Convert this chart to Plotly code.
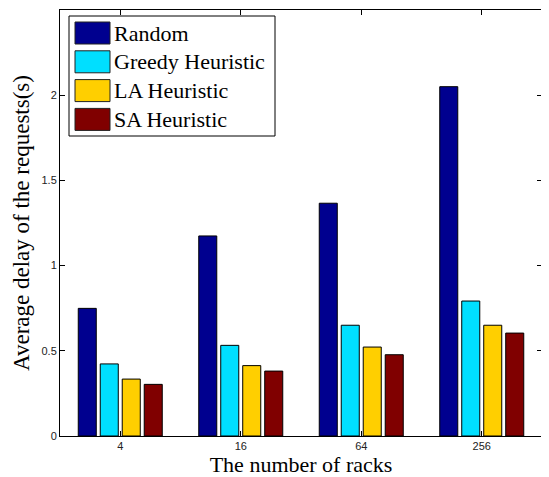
import plotly.graph_objects as go

categories = ["4", "16", "64", "256"]
series_names = ["Random", "Greedy Heuristic", "LA Heuristic", "SA Heuristic"]
random_vals = [0.749, 1.174, 1.366, 2.05]
greedy_vals = [0.423, 0.532, 0.650, 0.792]
la_vals = [0.334, 0.413, 0.522, 0.650]
sa_vals = [0.303, 0.381, 0.477, 0.604]
colors = ["#00008F", "#00DFFF", "#FFCF00", "#800000"]
y_ticks = [0, 0.5, 1, 1.5, 2, 2.5]
y_tick_labels = ["0", "0.5", "1", "1.5", "2", "2.5"]

series_vals = [random_vals, greedy_vals, la_vals, sa_vals]

# page has an 8px body margin; figure sized so it fills the 549x477 window
BODY = 8
W, H = 549 - BODY, 477 - BODY
# plot area in window pixels
L, R, T, B = 60, 542, 10, 436
ml, mt = L - BODY, T - BODY
mr = (BODY + W) - R
mb = (BODY + H) - B

fig = go.Figure()
for name, vals, col in zip(series_names, series_vals, colors):
    fig.add_trace(go.Bar(
        x=categories, y=vals, name=name,
        marker=dict(color=col, line=dict(color="black", width=1)),
        showlegend=False,
    ))

serif = "Liberation Serif, Times New Roman, serif"
sans = "Liberation Sans, Arial, sans-serif"


def px2x(px):
    return (px - L) / (R - L)


def py2y(py):
    return (B - py) / (B - T)


shapes = []
annotations = []
box_l, box_r, box_t, box_b = 69, 275, 16, 136
shapes.append(dict(type="rect", xref="paper", yref="paper",
                   x0=px2x(box_l), x1=px2x(box_r), y0=py2y(box_b), y1=py2y(box_t),
                   line=dict(color="black", width=1), fillcolor="white", layer="above"))
row_h = 28.8
for i, (name, col) in enumerate(zip(series_names, colors)):
    top = 22 + i * row_h
    shapes.append(dict(type="rect", xref="paper", yref="paper",
                       x0=px2x(75), x1=px2x(110), y0=py2y(top + 22), y1=py2y(top),
                       line=dict(color="#222222", width=1), fillcolor=col, layer="above"))
    annotations.append(dict(xref="paper", yref="paper", x=px2x(112), y=py2y(top + 11),
                            text=name, showarrow=False, xanchor="left", yanchor="middle",
                            font=dict(family=serif, size=22, color="black")))

fig.update_layout(
    width=W, height=H,
    margin=dict(l=ml, r=mr, t=mt, b=mb, autoexpand=False),
    paper_bgcolor="white", plot_bgcolor="white",
    barmode="group", bargap=0.27, bargroupgap=0.18,
    shapes=shapes, annotations=annotations,
    xaxis=dict(type="category", range=[-0.5, 3.5], automargin=False,
               showline=True, linecolor="black", linewidth=1, mirror="ticks",
               ticks="inside", ticklen=5, tickcolor="black",
               tickfont=dict(family=sans, size=11, color="#222222"),
               title=dict(text="The number of racks", font=dict(family=serif, size=22, color="black"), standoff=7),
               showgrid=False, zeroline=False),
    yaxis=dict(range=[0, 2.5], tickvals=y_ticks, ticktext=y_tick_labels, automargin=False,
               showline=True, linecolor="black", linewidth=1, mirror="ticks",
               ticks="inside", ticklen=5, tickcolor="black",
               tickfont=dict(family=sans, size=11, color="#222222"),
               title=dict(text="Average delay of the requests(s)", font=dict(family=serif, size=23, color="black"), standoff=5),
               showgrid=False, zeroline=False),
)

fig.write_html("out.html")
